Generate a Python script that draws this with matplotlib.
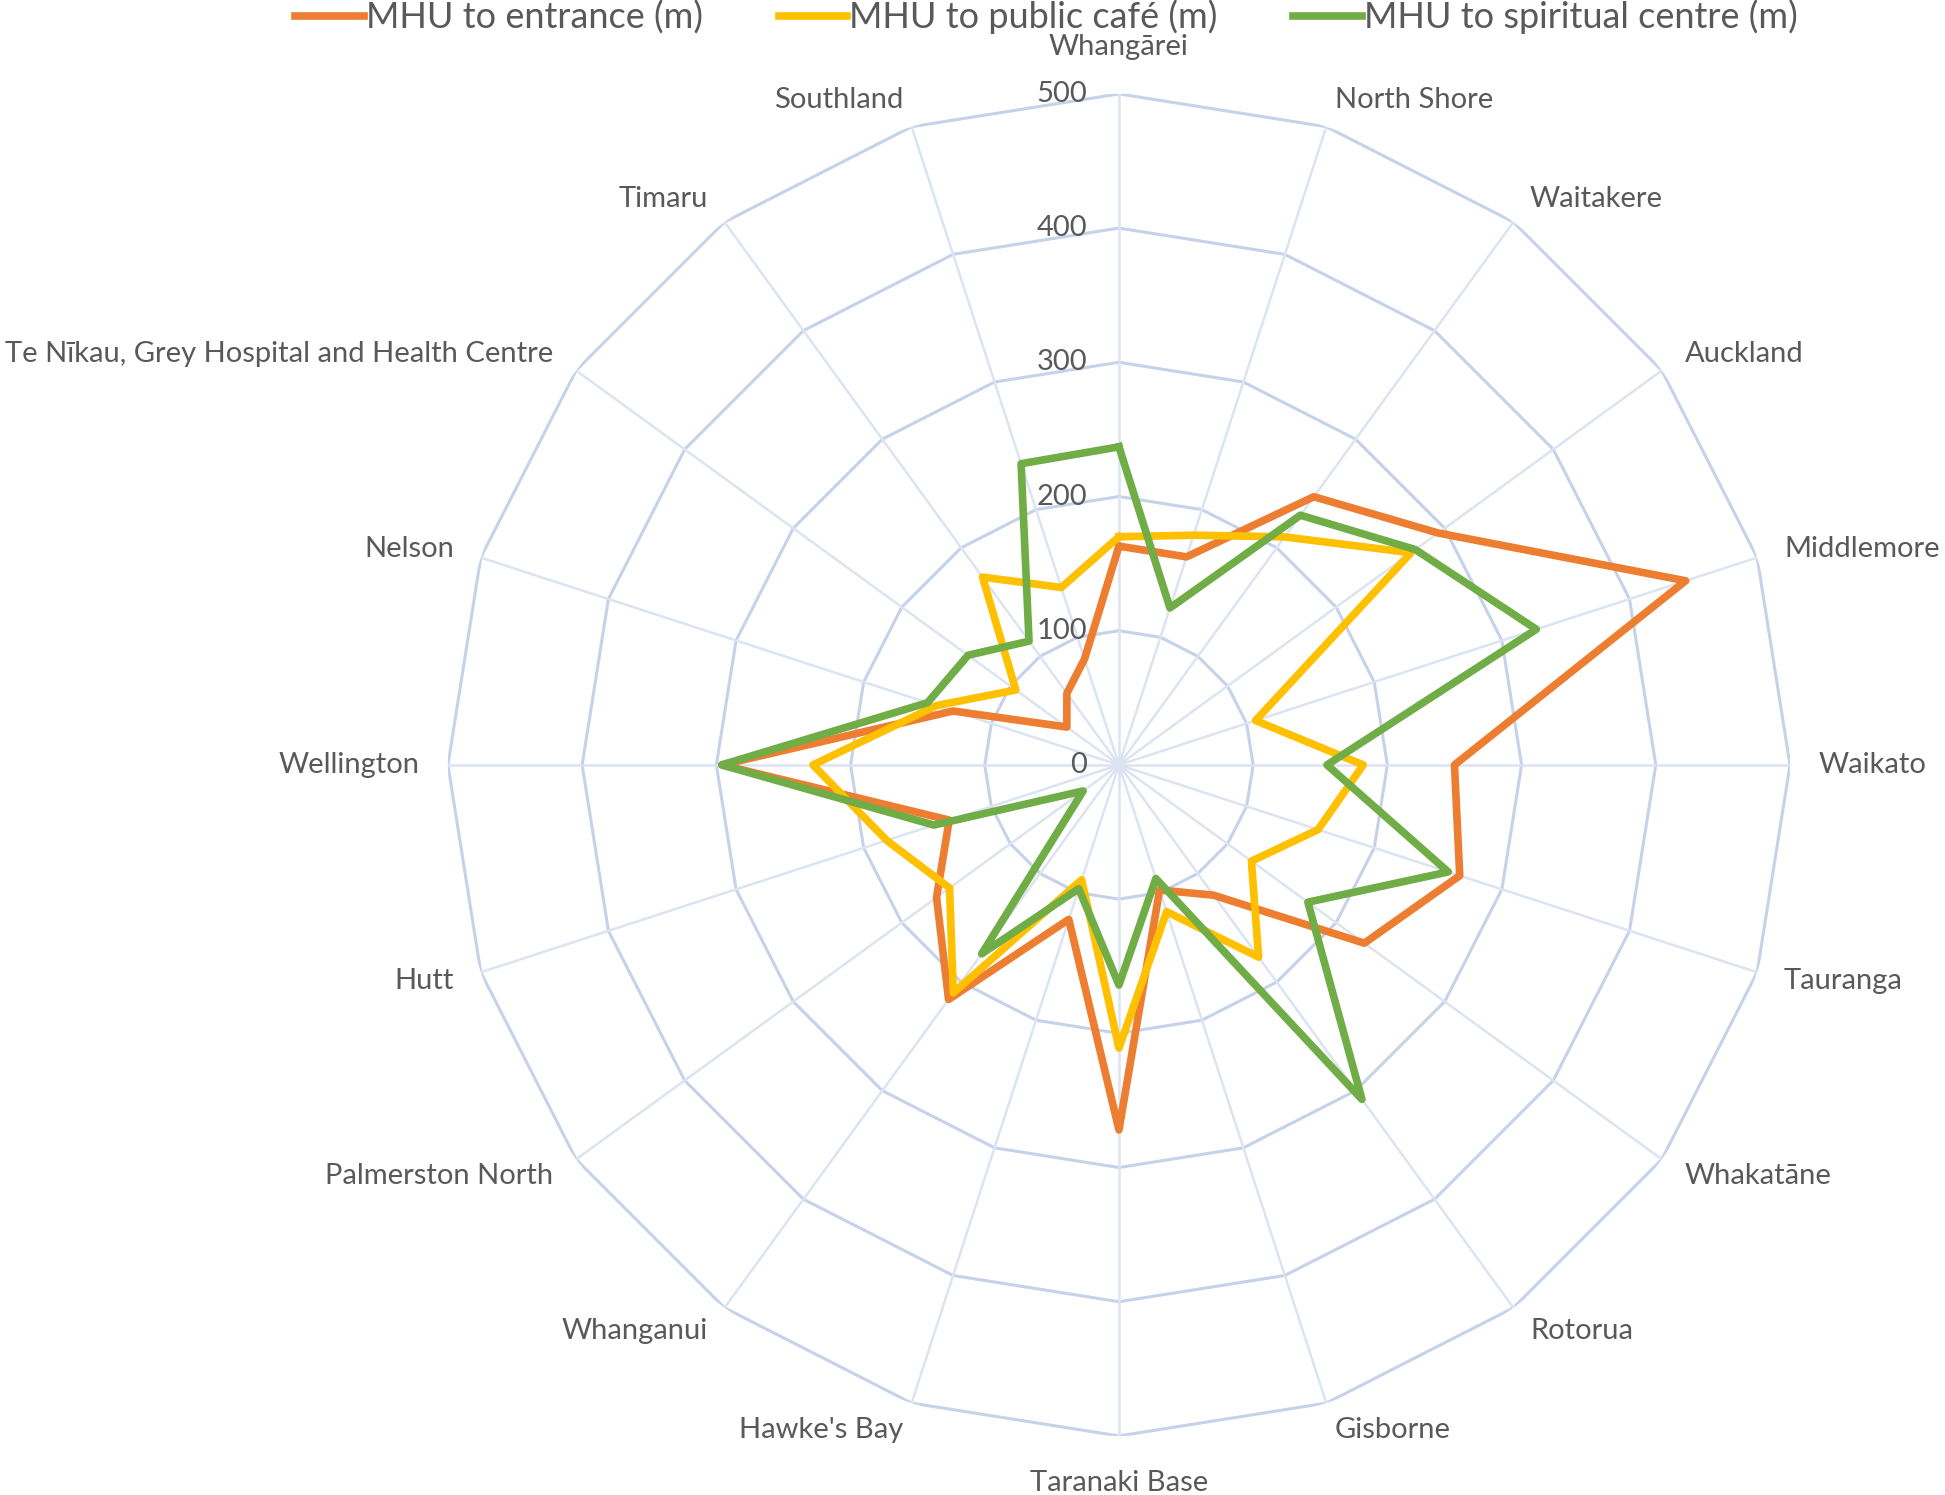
import matplotlib.pyplot as plt
import numpy as np
from matplotlib.transforms import offset_copy

plt.rcParams['font.family'] = ['Lato', 'DejaVu Sans']

# Data
categories = ['Whangārei', 'North Shore', 'Waitakere', 'Auckland', 'Middlemore',
              'Waikato', 'Tauranga', 'Whakatāne', 'Rotorua', 'Gisborne',
              'Taranaki Base', "Hawke's Bay", 'Whanganui', 'Palmerston North', 'Hutt',
              'Wellington', 'Nelson', 'Te Nīkau, Grey Hospital and Health Centre',
              'Timaru', 'Southland']
entrance = [163, 163, 247, 294, 444, 250, 267, 226, 120, 98,
            272, 121, 216, 168, 133, 296, 130, 48, 66, 83]
cafe = [170, 180, 210, 269, 107, 182, 156, 122, 177, 115,
        211, 90, 210, 156, 182, 228, 143, 95, 173, 139]
spiritual = [237, 123, 230, 273, 327, 155, 258, 174, 308, 89,
             164, 97, 174, 33, 145, 296, 150, 139, 114, 236]
ring_values = [0, 100, 200, 300, 400, 500]

series = [('MHU to entrance (m)', entrance, '#ED7D31'),
          ('MHU to public café (m)', cafe, '#FFC000'),
          ('MHU to spiritual centre (m)', spiritual, '#70AD47')]

fig = plt.figure(figsize=(19.45, 14.95), dpi=100)
ax = fig.add_axes([0.2303, 0.0395, 0.690, 0.8977], projection='polar')
ax.set_theta_zero_location('N')
ax.set_theta_direction(-1)
ax.set_ylim(0, 500)
ax.axis('off')

n = len(categories)
angles = np.deg2rad(np.arange(n) * 360.0 / n)
closed = np.append(angles, angles[0])

# Grid: polygon rings and spokes
for r in ring_values[1:]:
    ax.plot(closed, [r] * (n + 1), color='#C5D2EA', lw=2.2, zorder=1)
for a in angles:
    ax.plot([a, a], [0, ring_values[-1]], color='#DCE4F2', lw=1.8, zorder=1)

# Series
for label, vals, col in series:
    ax.plot(closed, vals + vals[:1], color=col, lw=5.5, label=label,
            solid_joinstyle='round', zorder=3, clip_on=False)

# Radial value labels
tr = offset_copy(ax.transData, fig=fig, x=-32, y=0, units='dots')
for r in ring_values:
    ax.text(0, r, str(r), transform=tr, ha='right', va='center',
            fontsize=21, color='#595959', zorder=4)

# Category labels
for a, name in zip(angles, categories):
    s = np.sin(a)
    if abs(s) < 0.01:
        ha, rr = 'center', 535
    elif s > 0:
        ha, rr = 'left', 521
    else:
        ha, rr = 'right', 521
    ax.text(a, rr, name, ha=ha, va='center', fontsize=21, color='#595959',
            clip_on=False)

fig.legend(loc='upper center', bbox_to_anchor=(0.538, 1.022), ncol=3,
           frameon=False, fontsize=26, handlelength=1.9, handletextpad=0.05,
           columnspacing=2.1, labelcolor='#595959')

fig.savefig('out.png', dpi=100)
